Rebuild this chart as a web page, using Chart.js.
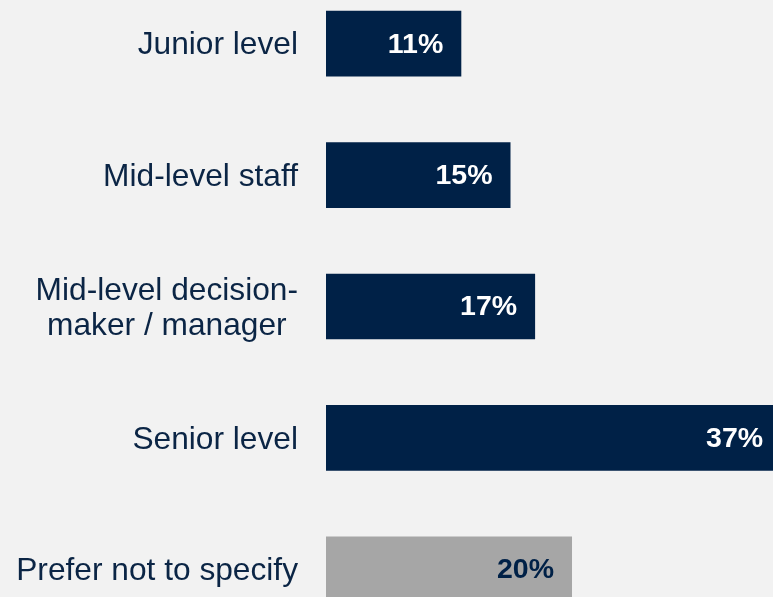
<!DOCTYPE html>
<html>
<head>
<meta charset="utf-8">
<script src="https://cdn.jsdelivr.net/npm/chart.js@4"></script>
<style>
    html, body {
        margin: 0;
        padding: 0;
        background: #F2F2F2;
        overflow: hidden;
        width: 773px;
        height: 597px;
    }
    #wrap {
        position: absolute;
        left: 0;
        top: -22px;
        width: 773px;
        height: 657px;
    }
</style>
</head>
<body>
<div id="wrap"><canvas id="level-chart"></canvas></div>
<script>
// Seniority breakdown (percent of respondents)
const categories = [
    'Junior level',
    'Mid-level staff',
    ['Mid-level decision-', 'maker / manager'],
    'Senior level',
    'Prefer not to specify'
];
const shares = [11, 15, 17, 37, 20];

const NAVY = '#002147';
const GREY = '#A6A6A6';
const barColors = shares.map((v, i) => i === shares.length - 1 ? GREY : NAVY);
const valueColors = shares.map((v, i) => i === shares.length - 1 ? NAVY : '#FFFFFF');

const FONT = '"Liberation Sans", Arial, sans-serif';

/**
 * Draws category names to the left of the bars, right-aligned as a block,
 * with wrapped lines centred under each other.
 */
const categoryLabels = {
    id: 'categoryLabels',
    afterDraw(chart) {
        const ctx = chart.ctx;
        const yScale = chart.scales.y;
        const right = chart.chartArea.left - 28;
        const lineHeight = 35;
        ctx.save();
        ctx.font = '31.7px ' + FONT;
        ctx.fillStyle = '#0B2545';
        ctx.textBaseline = 'middle';
        ctx.textAlign = 'center';
        categories.forEach((label, i) => {
            const lines = Array.isArray(label) ? label : [label];
            const widest = Math.max(...lines.map(l => ctx.measureText(l).width));
            const cx = right - widest / 2;
            const cy = yScale.getPixelForValue(i) + 2;
            const startY = cy - (lines.length - 1) * lineHeight / 2;
            lines.forEach((line, j) => {
                ctx.fillText(line, cx, startY + j * lineHeight);
            });
        });
        ctx.restore();
    }
};

/**
 * Writes the percentage inside the end of each bar.
 */
const valueLabels = {
    id: 'valueLabels',
    afterDatasetsDraw(chart) {
        const ctx = chart.ctx;
        const meta = chart.getDatasetMeta(0);
        ctx.save();
        ctx.font = 'bold 28.5px ' + FONT;
        ctx.textAlign = 'right';
        ctx.textBaseline = 'middle';
        meta.data.forEach((bar, i) => {
            ctx.fillStyle = valueColors[i];
            ctx.fillText(shares[i] + '%', bar.x - 18, bar.y + 1);
        });
        ctx.restore();
    }
};

new Chart(document.getElementById('level-chart'), {
    type: 'bar',
    data: {
        labels: categories,
        datasets: [{
            data: shares,
            backgroundColor: barColors,
            borderWidth: 0,
            barPercentage: 0.5,
            categoryPercentage: 1.0
        }]
    },
    options: {
        indexAxis: 'y',
        responsive: true,
        maintainAspectRatio: false,
        animation: false,
        events: [],
        layout: {
            padding: { left: 326, right: 0, top: 0, bottom: 0 }
        },
        plugins: {
            legend: { display: false },
            tooltip: { enabled: false }
        },
        scales: {
            x: {
                display: false,
                min: 0,
                max: 36.34
            },
            y: {
                display: false,
                offset: true
            }
        }
    },
    plugins: [categoryLabels, valueLabels]
});
</script>
</body>
</html>
